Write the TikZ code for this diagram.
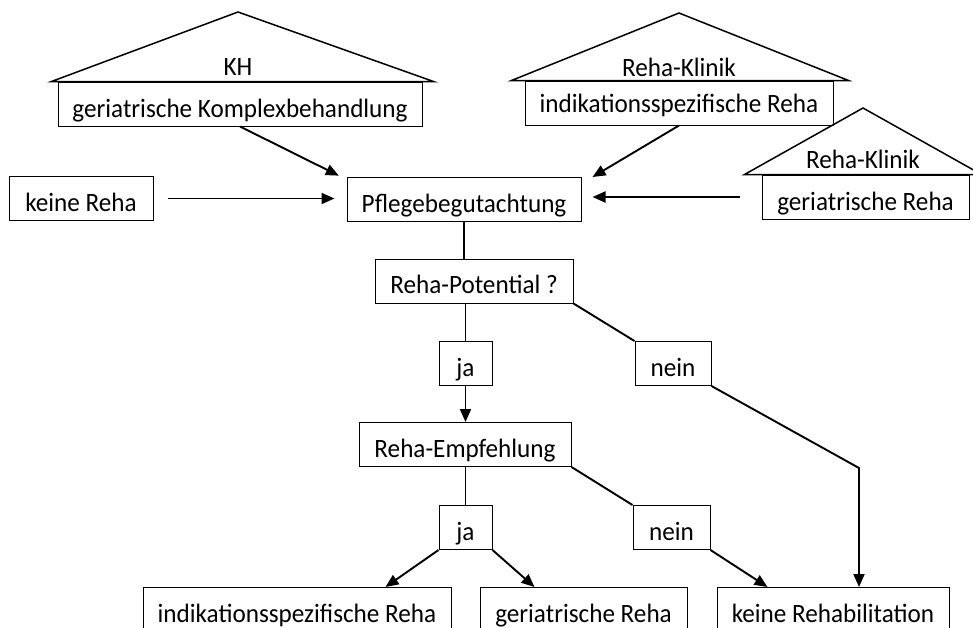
\documentclass[tikz,border=0pt]{standalone}
\usepackage{fontspec}
\setmainfont{Carlito}[FakeStretch=0.95]
\usetikzlibrary{arrows.meta, calc, positioning}

\begin{document}
\begin{tikzpicture}[x=1pt, y=-1pt,
  box/.style={draw, line width=1pt, fill=white, inner sep=0pt, minimum width=#1,
              minimum height=44pt, text height=25pt, text depth=0pt,
              font=\fontsize{26.5}{31}\selectfont},
  rooftext/.style={inner sep=0pt, anchor=base, font=\fontsize{26.5}{31}\selectfont},
  roof/.style={draw, line width=1.5pt, line join=miter},
  arr/.style={-{Triangle[length=13pt, width=11pt]}, line width=1.9pt},
  ln/.style={line width=1.9pt}]
  \useasboundingbox (0,0) rectangle (973,627);
  \fill[white] (0,0) rectangle (973,627);
  \clip (0,0) rectangle (973,627);

  % Haeuser oben
  \node[box=364, text height=27pt] (khbox) at (240,104) {geriatrische Komplexbehandlung};
  \node[box=308, text height=19pt] (rk1box) at (679,103) {indikationsspezifische Reha};
  \node[box=207, text height=26pt] (rk2box) at (865.5,197) {geriatrische Reha};
  \coordinate (khtip) at (238,12);
  \coordinate (rk1tip) at (679,13);
  \coordinate (rk2tip) at (863,108);
  \draw[roof] ([xshift=-6pt]khbox.north west) -- (khtip) -- ([xshift=11pt]khbox.north east) -- cycle;
  \draw[roof] ([xshift=-13pt]rk1box.north west) -- (rk1tip) -- ([xshift=15pt]rk1box.north east) -- cycle;
  \draw[roof] ([xshift=-17pt]rk2box.north west) -- (rk2tip) -- ([xshift=12pt]rk2box.north east) -- cycle;
  \node[rooftext] (kh) at (238,75.5) {KH};
  \node[rooftext] (rk1) at (679,76) {Reha-Klinik};
  \node[rooftext] (rk2) at (863,168) {Reha-Klinik};

  % Ablauf
  \node[box=144] (keinereha) at (81,198.5) {keine Reha};
  \node[box=234] (pflege) at (464,199.5) {Pflegebegutachtung};
  \node[box=198] (pot) at (474,281) {Reha-Potential ?};
  \node[box=53] (ja1) at (465.5,363.5) {ja};
  \node[box=76] (nein1) at (673,363.5) {nein};
  \node[box=212] (empf) at (465,444.5) {Reha-Empfehlung};
  \node[box=53] (ja2) at (465.5,527.5) {ja};
  \node[box=77] (nein2) at (671.5,527.5) {nein};
  \node[box=308] (indik) at (297,609.5) {indikationsspezifische Reha};
  \node[box=207] (geri) at (583.5,609.5) {geriatrische Reha};
  \node[box=232] (keinereh) at (833,609.5) {keine Rehabilitation};
  \coordinate (knick) at (859,468);

  \draw[arr, shorten >=3pt] (khbox.south) -- ([xshift=-5pt]pflege.north west);
  \draw[arr] (rk1box.south) -- ([xshift=11pt]pflege.north east);
  \draw[arr, shorten <=14pt, shorten >=12pt] (keinereha.east) -- (keinereha.east -| pflege.west);
  \draw[arr, shorten <=22pt, shorten >=11pt] (rk2box.west) -- (rk2box.west -| pflege.east);

  \draw[ln] (pflege.south) -- (pflege.south |- pot.north);
  \draw[ln] (ja1.north |- pot.south) -- (ja1.north);
  \draw[ln] (ja2.north |- empf.south) -- (ja2.north);
  \foreach \a/\b in {pot.south east/nein1.north west, empf.south east/nein2.north west}
    \draw[ln] (\a) -- (\b);
  \draw[arr] (ja1.south) -- (ja1.south |- empf.north);
  \draw[arr] (nein1.south east) -- (knick) -- (knick |- keinereh.north);
  \draw[arr] (ja2.south west) -- ([xshift=-66pt]indik.north east);
  \draw[arr] (ja2.south east) -- ([xshift=55pt]geri.north west);
  \draw[arr] (nein2.south east) -- ([xshift=51pt]keinereh.north west);
\end{tikzpicture}
\end{document}
